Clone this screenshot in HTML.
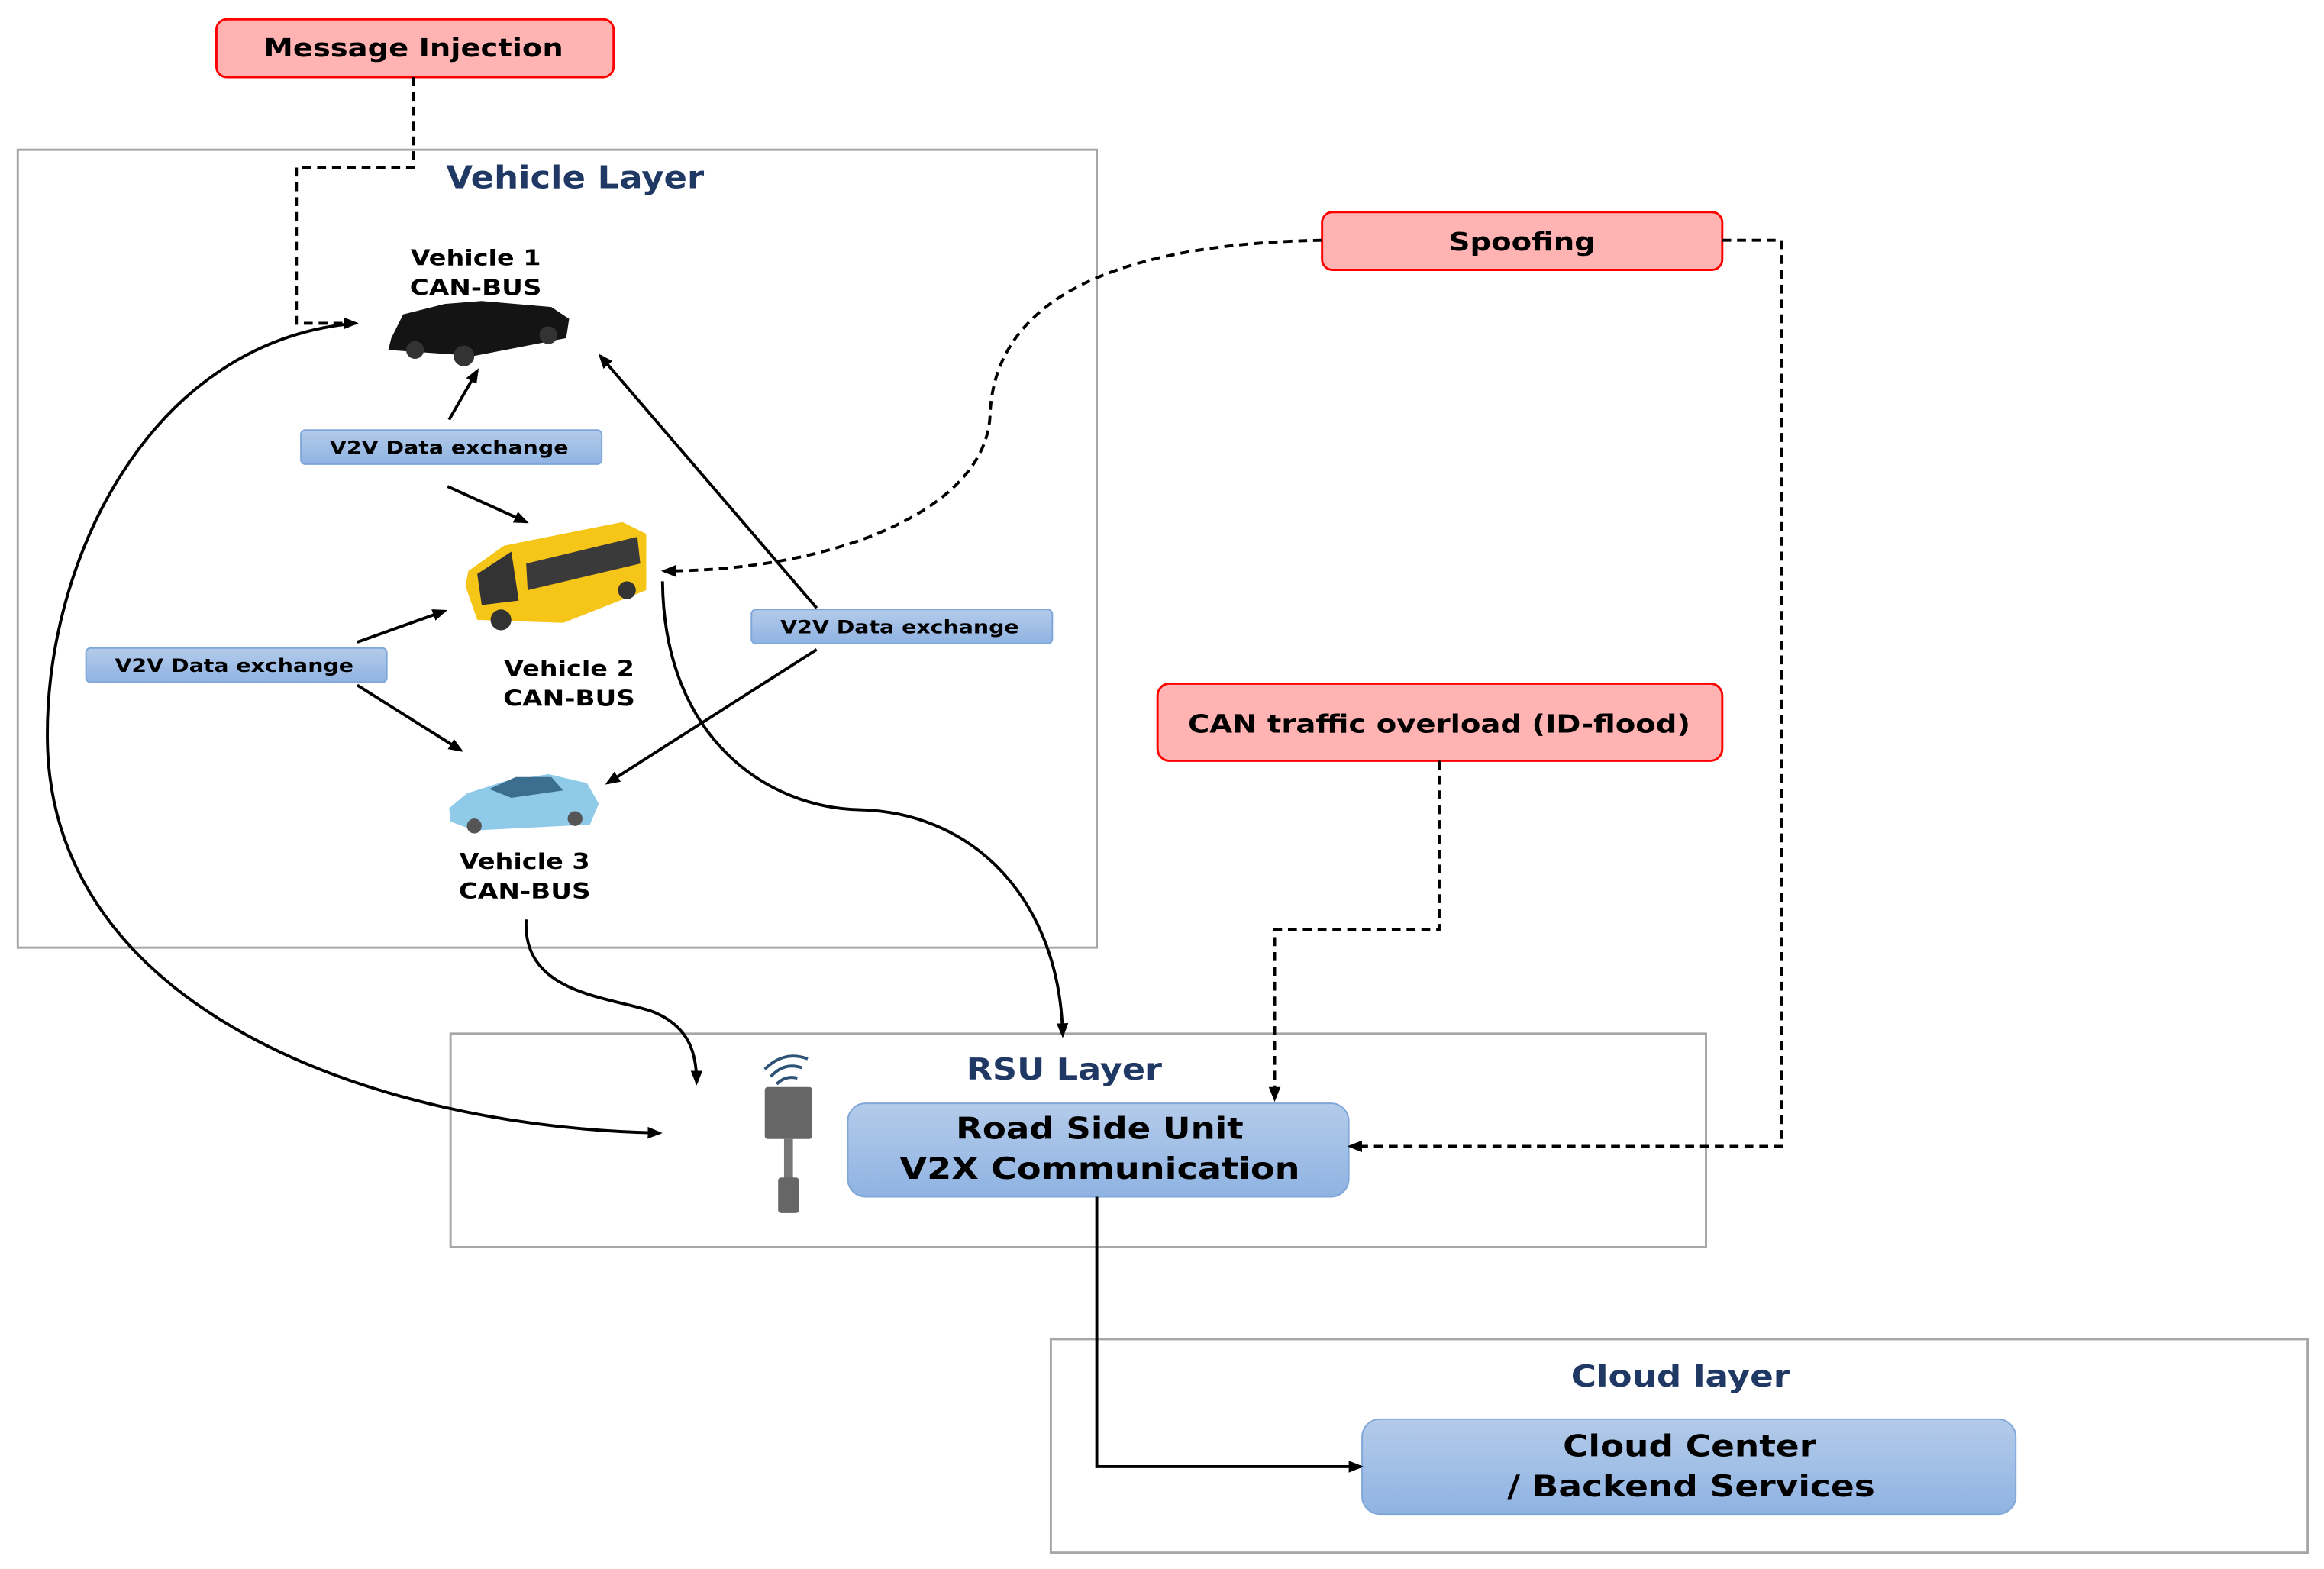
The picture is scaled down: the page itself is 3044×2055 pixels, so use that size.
<!DOCTYPE html>
<html><head><meta charset="utf-8"><style>
html,body{margin:0;padding:0;background:#fff;}
svg{display:block;}
text{font-family:"DejaVu Sans","Liberation Sans",sans-serif;font-weight:bold;}
</style></head><body>
<svg width="3044" height="2055" viewBox="0 0 1568 1058" preserveAspectRatio="none" xmlns="http://www.w3.org/2000/svg">
<defs>
<marker id="a" markerWidth="10" markerHeight="10" refX="8" refY="5" orient="auto" markerUnits="userSpaceOnUse"><path d="M0,1 L10,5 L0,9 Z" fill="#000"/></marker>
<linearGradient id="bl" x1="0" y1="0" x2="0" y2="1"><stop offset="0" stop-color="#b4cbea"/><stop offset="1" stop-color="#8fb3e2"/></linearGradient>
</defs>
<rect x="12" y="101" width="728" height="538" fill="none" stroke="#a6a6a6" stroke-width="1.5"/>
<rect x="304" y="697" width="847" height="144" fill="none" stroke="#a6a6a6" stroke-width="1.5"/>
<rect x="709" y="903" width="848" height="144" fill="none" stroke="#a6a6a6" stroke-width="1.5"/>
<text x="388" y="127" font-size="21" fill="#1f3864" text-anchor="middle" textLength="174" lengthAdjust="spacingAndGlyphs">Vehicle Layer</text>
<text x="718" y="728" font-size="20" fill="#1f3864" text-anchor="middle" textLength="132" lengthAdjust="spacingAndGlyphs">RSU Layer</text>
<text x="1134" y="935" font-size="20" fill="#1f3864" text-anchor="middle" textLength="148" lengthAdjust="spacingAndGlyphs">Cloud layer</text>

<rect x="146" y="13" width="268" height="39" rx="7" fill="#ffb3b3" stroke="#ff0000" stroke-width="1.5"/>
<text x="279" y="38" font-size="17" text-anchor="middle" textLength="202" lengthAdjust="spacingAndGlyphs">Message Injection</text>
<rect x="892" y="143" width="270" height="39" rx="7" fill="#ffb3b3" stroke="#ff0000" stroke-width="1.5"/>
<text x="1027" y="169" font-size="17" text-anchor="middle" textLength="99" lengthAdjust="spacingAndGlyphs">Spoofing</text>
<rect x="781" y="461" width="381" height="52" rx="8" fill="#ffb3b3" stroke="#ff0000" stroke-width="1.5"/>
<text x="971" y="494" font-size="17" text-anchor="middle" textLength="339" lengthAdjust="spacingAndGlyphs">CAN traffic overload (ID-flood)</text>

<rect x="203" y="290" width="203" height="23" rx="3" fill="url(#bl)" stroke="#7fa6d8"/>
<text x="303" y="306" font-size="12.5" text-anchor="middle" textLength="161" lengthAdjust="spacingAndGlyphs">V2V Data exchange</text>
<rect x="58" y="437" width="203" height="23" rx="3" fill="url(#bl)" stroke="#7fa6d8"/>
<text x="158" y="453" font-size="12.5" text-anchor="middle" textLength="161" lengthAdjust="spacingAndGlyphs">V2V Data exchange</text>
<rect x="507" y="411" width="203" height="23" rx="3" fill="url(#bl)" stroke="#7fa6d8"/>
<text x="607" y="427" font-size="12.5" text-anchor="middle" textLength="161" lengthAdjust="spacingAndGlyphs">V2V Data exchange</text>
<rect x="572" y="744" width="338" height="63" rx="12" fill="url(#bl)" stroke="#7fa6d8"/>
<text x="742" y="768" font-size="20" text-anchor="middle" textLength="194" lengthAdjust="spacingAndGlyphs">Road Side Unit</text>
<text x="742" y="795" font-size="20" text-anchor="middle" textLength="270" lengthAdjust="spacingAndGlyphs">V2X Communication</text>
<rect x="919" y="957" width="441" height="64" rx="12" fill="url(#bl)" stroke="#7fa6d8"/>
<text x="1140" y="982" font-size="20" text-anchor="middle" textLength="171" lengthAdjust="spacingAndGlyphs">Cloud Center</text>
<text x="1141" y="1009" font-size="20" text-anchor="middle" textLength="248" lengthAdjust="spacingAndGlyphs">/ Backend Services</text>

<text x="321" y="179" font-size="14.5" text-anchor="middle" textLength="88" lengthAdjust="spacingAndGlyphs">Vehicle 1</text>
<text x="321" y="199" font-size="14.5" text-anchor="middle" textLength="89" lengthAdjust="spacingAndGlyphs">CAN-BUS</text>
<text x="384" y="456" font-size="14.5" text-anchor="middle" textLength="88" lengthAdjust="spacingAndGlyphs">Vehicle 2</text>
<text x="384" y="476" font-size="14.5" text-anchor="middle" textLength="89" lengthAdjust="spacingAndGlyphs">CAN-BUS</text>
<text x="354" y="586" font-size="14.5" text-anchor="middle" textLength="88" lengthAdjust="spacingAndGlyphs">Vehicle 3</text>
<text x="354" y="606" font-size="14.5" text-anchor="middle" textLength="89" lengthAdjust="spacingAndGlyphs">CAN-BUS</text>

<g>
<path d="M264,228 L272,212 L300,205 L325,203 L372,207 L384,215 L382,228 L320,240 L262,236 Z" fill="#141414"/>
<circle cx="280" cy="236" r="6" fill="#333"/><circle cx="313" cy="240" r="7" fill="#333"/><circle cx="370" cy="226" r="6" fill="#333"/>
</g>
<g>
<path d="M316,385 L340,368 L420,352 L436,360 L436,398 L380,420 L322,418 L314,395 Z" fill="#f5c518"/>
<path d="M322,387 L345,372 L350,405 L325,408 Z" fill="#333"/>
<path d="M355,380 L430,362 L432,380 L356,398 Z" fill="#3a3a3a"/>
<circle cx="338" cy="418" r="7" fill="#333"/><circle cx="423" cy="398" r="6" fill="#333"/>
</g>
<g>
<path d="M303,545 L315,535 L340,527 L370,522 L396,528 L404,542 L398,556 L320,560 L304,554 Z" fill="#8fcbe8"/>
<path d="M330,532 L348,524 L372,524 L380,533 L345,538 Z" fill="#3c6f8f"/>
<circle cx="320" cy="557" r="5" fill="#555"/><circle cx="388" cy="552" r="5" fill="#555"/>
</g>
<g>
<path d="M520,726 Q529,716 541,720" fill="none" stroke="#2f5377" stroke-width="2"/>
<path d="M516,721 Q529,708 545,714" fill="none" stroke="#2f5377" stroke-width="2"/>
<path d="M524,731 Q530,725 538,727" fill="none" stroke="#2f5377" stroke-width="2"/>
<rect x="516" y="733" width="32" height="35" fill="#666" rx="2"/>
<rect x="529" y="768" width="6" height="28" fill="#777"/>
<rect x="525" y="794" width="14" height="24" fill="#666" rx="2"/>
</g>

<g stroke="#000" stroke-width="2" fill="none" marker-end="url(#a)">
<line x1="303" y1="283" x2="322" y2="250"/>
<line x1="302" y1="328" x2="355" y2="352"/>
<line x1="241" y1="433" x2="300" y2="412"/>
<line x1="241" y1="462" x2="311" y2="506"/>
<line x1="551" y1="410" x2="405" y2="240"/>
<line x1="551" y1="438" x2="410" y2="528"/>
<path d="M447,392 C448,500 520,545 580,546 C660,548 715,610 717,698"/>
<path d="M355,620 C352,670 410,672 440,682 C465,692 470,710 470,730"/>
<path d="M240,218 C100,230 30,380 32,500 C35,680 250,760 445,764"/>
<path d="M740,807 L740,989 L918,989"/>
</g>
<g stroke="#000" stroke-width="2" fill="none" stroke-dasharray="6,4" marker-end="url(#a)">
<path d="M279,52 L279,113 L200,113 L200,218 L240,218"/>
<path d="M892,162 C720,165 670,220 668,280 C665,345 560,385 448,385"/>
<path d="M1162,162 L1202,162 L1202,773 L911,773"/>
<path d="M971,513 L971,627 L860,627 L860,741"/>
</g>
</svg>
</body></html>
